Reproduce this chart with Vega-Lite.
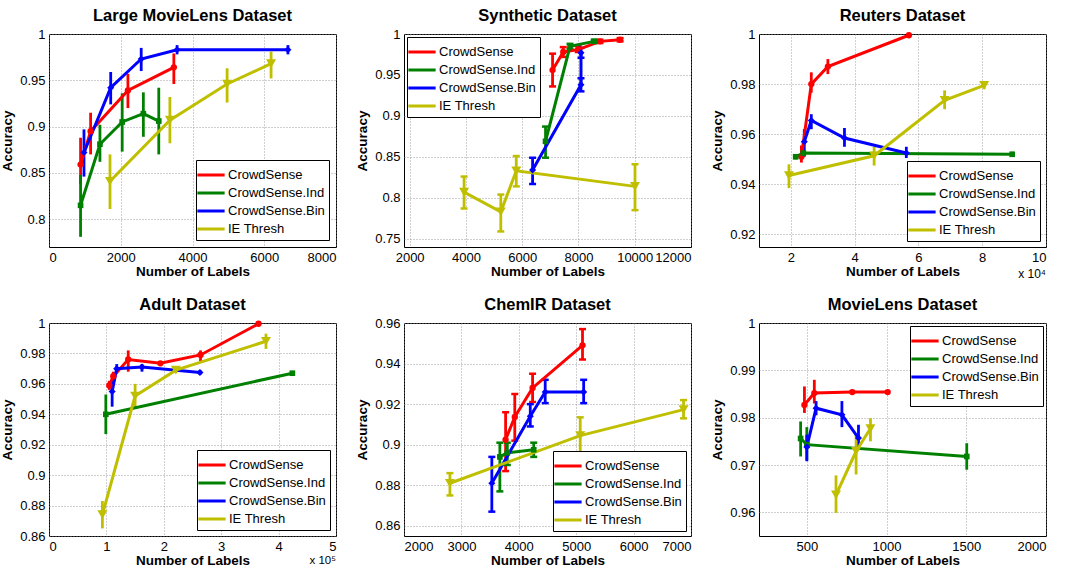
{
 "$schema": "https://vega.github.io/schema/vega-lite/v6.json",
 "background": "white",
 "padding": {"left": 0, "top": 7, "right": 5, "bottom": 2},
 "datasets": {"d": [
  {"p":"LML","s":"CrowdSense","o":1,"x":880,"y":0.859,"lo":0.838,"hi":0.888},
  {"p":"LML","s":"CrowdSense","o":2,"x":1160,"y":0.895,"lo":0.870,"hi":0.915},
  {"p":"LML","s":"CrowdSense","o":3,"x":2200,"y":0.939,"lo":0.920,"hi":0.957},
  {"p":"LML","s":"CrowdSense","o":4,"x":3480,"y":0.964,"lo":0.946,"hi":0.979},
  {"p":"LML","s":"CrowdSense.Ind","o":1,"x":880,"y":0.815,"lo":0.781,"hi":0.848},
  {"p":"LML","s":"CrowdSense.Ind","o":2,"x":1420,"y":0.881,"lo":0.862,"hi":0.902},
  {"p":"LML","s":"CrowdSense.Ind","o":3,"x":2040,"y":0.905,"lo":0.873,"hi":0.936},
  {"p":"LML","s":"CrowdSense.Ind","o":4,"x":2630,"y":0.914,"lo":0.889,"hi":0.937},
  {"p":"LML","s":"CrowdSense.Ind","o":5,"x":3060,"y":0.906,"lo":0.870,"hi":0.942},
  {"p":"LML","s":"CrowdSense.Bin","o":1,"x":975,"y":0.872,"lo":0.846,"hi":0.897},
  {"p":"LML","s":"CrowdSense.Bin","o":2,"x":1720,"y":0.942,"lo":0.924,"hi":0.959},
  {"p":"LML","s":"CrowdSense.Bin","o":3,"x":2570,"y":0.973,"lo":0.960,"hi":0.985},
  {"p":"LML","s":"CrowdSense.Bin","o":4,"x":3570,"y":0.983,"lo":0.978,"hi":0.988},
  {"p":"LML","s":"CrowdSense.Bin","o":5,"x":6660,"y":0.983,"lo":0.978,"hi":0.988},
  {"p":"LML","s":"IE Thresh","o":1,"x":1700,"y":0.841,"lo":0.811,"hi":0.870},
  {"p":"LML","s":"IE Thresh","o":2,"x":3370,"y":0.907,"lo":0.882,"hi":0.932},
  {"p":"LML","s":"IE Thresh","o":3,"x":4965,"y":0.946,"lo":0.926,"hi":0.963},
  {"p":"LML","s":"IE Thresh","o":4,"x":6190,"y":0.968,"lo":0.952,"hi":0.981},

  {"p":"SYN","s":"CrowdSense","o":1,"x":7080,"y":0.956,"lo":0.936,"hi":0.976},
  {"p":"SYN","s":"CrowdSense","o":2,"x":7460,"y":0.978,"lo":0.972,"hi":0.984},
  {"p":"SYN","s":"CrowdSense","o":3,"x":7990,"y":0.981,"lo":0.978,"hi":0.985},
  {"p":"SYN","s":"CrowdSense","o":4,"x":8765,"y":0.991,"lo":0.989,"hi":0.993},
  {"p":"SYN","s":"CrowdSense","o":5,"x":9480,"y":0.993,"lo":0.991,"hi":0.995},
  {"p":"SYN","s":"CrowdSense.Ind","o":1,"x":6830,"y":0.869,"lo":0.849,"hi":0.887},
  {"p":"SYN","s":"CrowdSense.Ind","o":2,"x":7700,"y":0.985,"lo":0.982,"hi":0.988},
  {"p":"SYN","s":"CrowdSense.Ind","o":3,"x":8560,"y":0.991,"lo":0.989,"hi":0.993},
  {"p":"SYN","s":"CrowdSense.Bin","o":1,"x":6370,"y":0.834,"lo":0.817,"hi":0.849},
  {"p":"SYN","s":"CrowdSense.Bin","o":2,"x":8090,"y":0.938,"lo":0.930,"hi":0.946},
  {"p":"SYN","s":"CrowdSense.Bin","o":3,"x":8090,"y":0.977,"lo":0.971,"hi":0.983},
  {"p":"SYN","s":"IE Thresh","o":1,"x":3935,"y":0.807,"lo":0.787,"hi":0.826},
  {"p":"SYN","s":"IE Thresh","o":2,"x":5240,"y":0.783,"lo":0.759,"hi":0.804},
  {"p":"SYN","s":"IE Thresh","o":3,"x":5790,"y":0.833,"lo":0.814,"hi":0.851},
  {"p":"SYN","s":"IE Thresh","o":4,"x":10010,"y":0.814,"lo":0.785,"hi":0.841},

  {"p":"REU","s":"CrowdSense","o":1,"x":2.33,"y":0.951,"lo":0.9487,"hi":0.9555},
  {"p":"REU","s":"CrowdSense","o":2,"x":2.64,"y":0.980,"lo":0.9766,"hi":0.9847},
  {"p":"REU","s":"CrowdSense","o":3,"x":3.16,"y":0.987,"lo":0.984,"hi":0.990},
  {"p":"REU","s":"CrowdSense","o":4,"x":5.70,"y":0.9995,"lo":0.999,"hi":1.0},
  {"p":"REU","s":"CrowdSense.Ind","o":1,"x":2.15,"y":0.951,"lo":0.950,"hi":0.952},
  {"p":"REU","s":"CrowdSense.Ind","o":2,"x":2.39,"y":0.9525,"lo":0.951,"hi":0.954},
  {"p":"REU","s":"CrowdSense.Ind","o":3,"x":8.94,"y":0.952,"lo":0.951,"hi":0.953},
  {"p":"REU","s":"CrowdSense.Bin","o":1,"x":2.42,"y":0.957,"lo":0.951,"hi":0.962},
  {"p":"REU","s":"CrowdSense.Bin","o":2,"x":2.64,"y":0.9655,"lo":0.962,"hi":0.968},
  {"p":"REU","s":"CrowdSense.Bin","o":3,"x":3.68,"y":0.9585,"lo":0.955,"hi":0.9625},
  {"p":"REU","s":"CrowdSense.Bin","o":4,"x":5.62,"y":0.9525,"lo":0.9505,"hi":0.955},
  {"p":"REU","s":"IE Thresh","o":1,"x":1.94,"y":0.9435,"lo":0.9385,"hi":0.948},
  {"p":"REU","s":"IE Thresh","o":2,"x":4.61,"y":0.9514,"lo":0.9475,"hi":0.955},
  {"p":"REU","s":"IE Thresh","o":3,"x":6.82,"y":0.9735,"lo":0.970,"hi":0.9775},
  {"p":"REU","s":"IE Thresh","o":4,"x":8.06,"y":0.9795,"lo":0.978,"hi":0.9805},

  {"p":"ADU","s":"CrowdSense","o":1,"x":1.05,"y":0.959,"lo":0.956,"hi":0.962},
  {"p":"ADU","s":"CrowdSense","o":2,"x":1.12,"y":0.965,"lo":0.962,"hi":0.968},
  {"p":"ADU","s":"CrowdSense","o":3,"x":1.38,"y":0.976,"lo":0.968,"hi":0.982},
  {"p":"ADU","s":"CrowdSense","o":4,"x":1.94,"y":0.9735,"lo":0.972,"hi":0.975},
  {"p":"ADU","s":"CrowdSense","o":5,"x":2.64,"y":0.979,"lo":0.975,"hi":0.982},
  {"p":"ADU","s":"CrowdSense","o":6,"x":3.65,"y":0.9995,"lo":0.999,"hi":1.0},
  {"p":"ADU","s":"CrowdSense.Ind","o":1,"x":0.99,"y":0.940,"lo":0.927,"hi":0.953},
  {"p":"ADU","s":"CrowdSense.Ind","o":2,"x":4.24,"y":0.967,"lo":0.966,"hi":0.968},
  {"p":"ADU","s":"CrowdSense.Bin","o":1,"x":1.10,"y":0.955,"lo":0.945,"hi":0.963},
  {"p":"ADU","s":"CrowdSense.Bin","o":2,"x":1.18,"y":0.970,"lo":0.967,"hi":0.973},
  {"p":"ADU","s":"CrowdSense.Bin","o":3,"x":1.62,"y":0.971,"lo":0.968,"hi":0.973},
  {"p":"ADU","s":"CrowdSense.Bin","o":4,"x":2.63,"y":0.9675,"lo":0.966,"hi":0.969},
  {"p":"ADU","s":"IE Thresh","o":1,"x":0.93,"y":0.874,"lo":0.865,"hi":0.883},
  {"p":"ADU","s":"IE Thresh","o":2,"x":1.50,"y":0.952,"lo":0.944,"hi":0.960},
  {"p":"ADU","s":"IE Thresh","o":3,"x":2.21,"y":0.969,"lo":0.967,"hi":0.971},
  {"p":"ADU","s":"IE Thresh","o":4,"x":3.78,"y":0.988,"lo":0.983,"hi":0.993},

  {"p":"CHE","s":"CrowdSense","o":1,"x":3770,"y":0.9025,"lo":0.887,"hi":0.916},
  {"p":"CHE","s":"CrowdSense","o":2,"x":3930,"y":0.9137,"lo":0.902,"hi":0.925},
  {"p":"CHE","s":"CrowdSense","o":3,"x":4240,"y":0.928,"lo":0.921,"hi":0.935},
  {"p":"CHE","s":"CrowdSense","o":4,"x":5110,"y":0.949,"lo":0.942,"hi":0.957},
  {"p":"CHE","s":"CrowdSense.Ind","o":1,"x":3670,"y":0.894,"lo":0.877,"hi":0.901},
  {"p":"CHE","s":"CrowdSense.Ind","o":2,"x":3800,"y":0.896,"lo":0.890,"hi":0.901},
  {"p":"CHE","s":"CrowdSense.Ind","o":3,"x":4260,"y":0.8975,"lo":0.894,"hi":0.901},
  {"p":"CHE","s":"CrowdSense.Bin","o":1,"x":3530,"y":0.881,"lo":0.867,"hi":0.894},
  {"p":"CHE","s":"CrowdSense.Bin","o":2,"x":4200,"y":0.914,"lo":0.909,"hi":0.920},
  {"p":"CHE","s":"CrowdSense.Bin","o":3,"x":4460,"y":0.926,"lo":0.9205,"hi":0.932},
  {"p":"CHE","s":"CrowdSense.Bin","o":4,"x":5130,"y":0.926,"lo":0.9205,"hi":0.932},
  {"p":"CHE","s":"IE Thresh","o":1,"x":2800,"y":0.881,"lo":0.875,"hi":0.886},
  {"p":"CHE","s":"IE Thresh","o":2,"x":5070,"y":0.9045,"lo":0.892,"hi":0.9135},
  {"p":"CHE","s":"IE Thresh","o":3,"x":6870,"y":0.9173,"lo":0.913,"hi":0.922},

  {"p":"ML","s":"CrowdSense","o":1,"x":485,"y":0.9827,"lo":0.981,"hi":0.9866},
  {"p":"ML","s":"CrowdSense","o":2,"x":547,"y":0.9852,"lo":0.983,"hi":0.988},
  {"p":"ML","s":"CrowdSense","o":3,"x":785,"y":0.9854,"lo":0.9852,"hi":0.9856},
  {"p":"ML","s":"CrowdSense","o":4,"x":1007,"y":0.9854,"lo":0.9852,"hi":0.9856},
  {"p":"ML","s":"CrowdSense.Ind","o":1,"x":461,"y":0.9756,"lo":0.9718,"hi":0.9792},
  {"p":"ML","s":"CrowdSense.Ind","o":2,"x":500,"y":0.9743,"lo":0.971,"hi":0.978},
  {"p":"ML","s":"CrowdSense.Ind","o":3,"x":1503,"y":0.9718,"lo":0.969,"hi":0.9746},
  {"p":"ML","s":"CrowdSense.Bin","o":1,"x":500,"y":0.9738,"lo":0.9708,"hi":0.9764},
  {"p":"ML","s":"CrowdSense.Bin","o":2,"x":558,"y":0.982,"lo":0.9805,"hi":0.9835},
  {"p":"ML","s":"CrowdSense.Bin","o":3,"x":720,"y":0.9806,"lo":0.978,"hi":0.9835},
  {"p":"ML","s":"CrowdSense.Bin","o":4,"x":824,"y":0.9757,"lo":0.9735,"hi":0.9785},
  {"p":"ML","s":"IE Thresh","o":1,"x":683,"y":0.9637,"lo":0.9599,"hi":0.9678},
  {"p":"ML","s":"IE Thresh","o":2,"x":809,"y":0.9729,"lo":0.968,"hi":0.9764},
  {"p":"ML","s":"IE Thresh","o":3,"x":899,"y":0.9777,"lo":0.975,"hi":0.9799}
 ]},
 "columns": 3,
 "bounds": "flush",
 "spacing": {"row": 76, "column": 68},
 "resolve": {"scale": {"color": "independent"}, "legend": {"color": "independent"}},
 "config": {
  "font": "Liberation Sans",
  "view": {"stroke": "black", "strokeWidth": 1},
  "title": {"fontSize": 16.5, "fontWeight": "bold", "color": "black", "offset": 4},
  "axis": {"domain": false, "ticks": false, "labelFontSize": 13, "labelColor": "black", "titleFontSize": 13.5, "titleFontWeight": "bold", "titleColor": "black", "gridColor": "#888888", "gridDash": [1, 2], "gridWidth": 0.8, "labelPadding": 4, "labelExpr": "'' + datum.value"},
  "axisX": {"titlePadding": 0},
  "axisY": {"titlePadding": 5},
  "legend": {"strokeColor": "black", "fillColor": "white", "padding": 4, "labelFontSize": 13, "labelColor": "black", "symbolType": "M-1.5,0H1.5", "symbolSize": 330, "symbolStrokeWidth": 3, "symbolOpacity": 1, "rowPadding": 0, "labelOffset": 6, "offset": 6, "titleFontSize": 0}
 },
 "concat": [
  {
   "title": "Large MovieLens Dataset", "width": 287, "height": 213,
   "data": {"name": "d"},
   "transform": [{"filter": "datum.p === 'LML'"}],
   "encoding": {
    "x": {"field": "x", "type": "quantitative", "title": "Number of Labels", "scale": {"domain": [0, 8000], "nice": false, "zero": false}, "axis": {"values": [0, 2000, 4000, 6000, 8000]}},
    "y": {"field": "y", "type": "quantitative", "title": "Accuracy", "scale": {"domain": [0.77, 1], "nice": false, "zero": false}, "axis": {"values": [0.8, 0.85, 0.9, 0.95, 1]}},
    "color": {"field": "s", "type": "nominal", "scale": {"domain": ["CrowdSense", "CrowdSense.Ind", "CrowdSense.Bin", "IE Thresh"], "range": ["#ff0000", "#008000", "#0000ff", "#bfbf00"]}, "legend": {"title": null, "orient": "bottom-right", "offset": 7, "symbolType": "M-1.5,0H1.5"}}
   },
   "layer": [
    {"mark": {"type": "rule", "strokeWidth": 2.8}, "encoding": {"y": {"field": "lo", "type": "quantitative", "title": "Accuracy"}, "y2": {"field": "hi"}}},
    {"mark": {"type": "line", "strokeWidth": 3}, "encoding": {"order": {"field": "o", "type": "quantitative"}}},
    {"transform": [{"filter": "datum.s === 'CrowdSense'"}], "mark": {"type": "point", "filled": true, "opacity": 1, "shape": "circle", "size": 40}, "encoding": {"color": {"value": "#ff0000"}}},
    {"transform": [{"filter": "datum.s === 'CrowdSense.Ind'"}], "mark": {"type": "point", "filled": true, "opacity": 1, "shape": "square", "size": 32}, "encoding": {"color": {"value": "#008000"}}},
    {"transform": [{"filter": "datum.s === 'CrowdSense.Bin'"}], "mark": {"type": "point", "filled": true, "opacity": 1, "shape": "diamond", "size": 50}, "encoding": {"color": {"value": "#0000ff"}}},
    {"transform": [{"filter": "datum.s === 'IE Thresh'"}], "mark": {"type": "point", "filled": true, "opacity": 1, "shape": "triangle-down", "size": 100}, "encoding": {"color": {"value": "#bfbf00"}}}
   ]
  },
  {
   "title": "Synthetic Dataset", "width": 287, "height": 213,
   "data": {"name": "d"},
   "transform": [{"filter": "datum.p === 'SYN'"}],
   "encoding": {
    "x": {"field": "x", "type": "quantitative", "title": "Number of Labels", "scale": {"domain": [1800, 12000], "nice": false, "zero": false}, "axis": {"values": [2000, 4000, 6000, 8000, 10000, 12000]}},
    "y": {"field": "y", "type": "quantitative", "title": "Accuracy", "scale": {"domain": [0.74, 1], "nice": false, "zero": false}, "axis": {"values": [0.75, 0.8, 0.85, 0.9, 0.95, 1]}},
    "color": {"field": "s", "type": "nominal", "scale": {"domain": ["CrowdSense", "CrowdSense.Ind", "CrowdSense.Bin", "IE Thresh"], "range": ["#ff0000", "#008000", "#0000ff", "#bfbf00"]}, "legend": {"title": null, "orient": "top-left", "offset": 3, "symbolType": "M-1.5,0H1.5"}}
   },
   "layer": [
    {"mark": {"type": "rule", "strokeWidth": 2.8}, "encoding": {"y": {"field": "lo", "type": "quantitative", "title": "Accuracy"}, "y2": {"field": "hi"}}},
    {"mark": {"type": "tick", "orient": "horizontal", "size": 7, "thickness": 2.5, "opacity": 1}, "encoding": {"y": {"field": "lo", "type": "quantitative", "title": "Accuracy"}}},
    {"mark": {"type": "tick", "orient": "horizontal", "size": 7, "thickness": 2.5, "opacity": 1}, "encoding": {"y": {"field": "hi", "type": "quantitative", "title": "Accuracy"}}},
    {"mark": {"type": "line", "strokeWidth": 3}, "encoding": {"order": {"field": "o", "type": "quantitative"}}},
    {"transform": [{"filter": "datum.s === 'CrowdSense'"}], "mark": {"type": "point", "filled": true, "opacity": 1, "shape": "circle", "size": 40}, "encoding": {"color": {"value": "#ff0000"}}},
    {"transform": [{"filter": "datum.s === 'CrowdSense.Ind'"}], "mark": {"type": "point", "filled": true, "opacity": 1, "shape": "square", "size": 32}, "encoding": {"color": {"value": "#008000"}}},
    {"transform": [{"filter": "datum.s === 'CrowdSense.Bin'"}], "mark": {"type": "point", "filled": true, "opacity": 1, "shape": "diamond", "size": 50}, "encoding": {"color": {"value": "#0000ff"}}},
    {"transform": [{"filter": "datum.s === 'IE Thresh'"}], "mark": {"type": "point", "filled": true, "opacity": 1, "shape": "triangle-down", "size": 100}, "encoding": {"color": {"value": "#bfbf00"}}}
   ]
  },
  {
   "title": "Reuters Dataset", "width": 287, "height": 213,
   "data": {"name": "d"},
   "transform": [{"filter": "datum.p === 'REU'"}],
   "encoding": {
    "x": {"field": "x", "type": "quantitative", "title": "Number of Labels", "scale": {"domain": [1, 10], "nice": false, "zero": false}, "axis": {"values": [2, 4, 6, 8, 10]}},
    "y": {"field": "y", "type": "quantitative", "title": "Accuracy", "scale": {"domain": [0.915, 1], "nice": false, "zero": false}, "axis": {"values": [0.92, 0.94, 0.96, 0.98, 1]}},
    "color": {"field": "s", "type": "nominal", "scale": {"domain": ["CrowdSense", "CrowdSense.Ind", "CrowdSense.Bin", "IE Thresh"], "range": ["#ff0000", "#008000", "#0000ff", "#bfbf00"]}, "legend": {"title": null, "orient": "bottom-right", "offset": 6, "symbolType": "M-1.5,0H1.5"}}
   },
   "layer": [
    {"mark": {"type": "rule", "strokeWidth": 2.8}, "encoding": {"y": {"field": "lo", "type": "quantitative", "title": "Accuracy"}, "y2": {"field": "hi"}}},
    {"mark": {"type": "line", "strokeWidth": 3}, "encoding": {"order": {"field": "o", "type": "quantitative"}}},
    {"transform": [{"filter": "datum.s === 'CrowdSense'"}], "mark": {"type": "point", "filled": true, "opacity": 1, "shape": "circle", "size": 40}, "encoding": {"color": {"value": "#ff0000"}}},
    {"transform": [{"filter": "datum.s === 'CrowdSense.Ind'"}], "mark": {"type": "point", "filled": true, "opacity": 1, "shape": "square", "size": 32}, "encoding": {"color": {"value": "#008000"}}},
    {"transform": [{"filter": "datum.s === 'CrowdSense.Bin'"}], "mark": {"type": "point", "filled": true, "opacity": 1, "shape": "diamond", "size": 50}, "encoding": {"color": {"value": "#0000ff"}}},
    {"transform": [{"filter": "datum.s === 'IE Thresh'"}], "mark": {"type": "point", "filled": true, "opacity": 1, "shape": "triangle-down", "size": 100}, "encoding": {"color": {"value": "#bfbf00"}}},
    {"transform": [{"filter": "datum.s === 'CrowdSense' && datum.o === 1"}], "mark": {"type": "text", "align": "right", "baseline": "top", "dy": 22, "fontSize": 12}, "encoding": {"x": {"datum": 10}, "y": {"datum": 0.915}, "text": {"value": "x 10⁴"}, "color": {"value": "black"}}}
   ]
  },
  {
   "title": "Adult Dataset", "width": 287, "height": 213,
   "data": {"name": "d"},
   "transform": [{"filter": "datum.p === 'ADU'"}],
   "encoding": {
    "x": {"field": "x", "type": "quantitative", "title": "Number of Labels", "scale": {"domain": [0, 5], "nice": false, "zero": false}, "axis": {"values": [0, 1, 2, 3, 4, 5]}},
    "y": {"field": "y", "type": "quantitative", "title": "Accuracy", "scale": {"domain": [0.86, 1], "nice": false, "zero": false}, "axis": {"values": [0.86, 0.88, 0.9, 0.92, 0.94, 0.96, 0.98, 1]}},
    "color": {"field": "s", "type": "nominal", "scale": {"domain": ["CrowdSense", "CrowdSense.Ind", "CrowdSense.Bin", "IE Thresh"], "range": ["#ff0000", "#008000", "#0000ff", "#bfbf00"]}, "legend": {"title": null, "orient": "bottom-right", "offset": 6, "symbolType": "M-1.5,0H1.5"}}
   },
   "layer": [
    {"mark": {"type": "rule", "strokeWidth": 2.8}, "encoding": {"y": {"field": "lo", "type": "quantitative", "title": "Accuracy"}, "y2": {"field": "hi"}}},
    {"mark": {"type": "line", "strokeWidth": 3}, "encoding": {"order": {"field": "o", "type": "quantitative"}}},
    {"transform": [{"filter": "datum.s === 'CrowdSense'"}], "mark": {"type": "point", "filled": true, "opacity": 1, "shape": "circle", "size": 40}, "encoding": {"color": {"value": "#ff0000"}}},
    {"transform": [{"filter": "datum.s === 'CrowdSense.Ind'"}], "mark": {"type": "point", "filled": true, "opacity": 1, "shape": "square", "size": 32}, "encoding": {"color": {"value": "#008000"}}},
    {"transform": [{"filter": "datum.s === 'CrowdSense.Bin'"}], "mark": {"type": "point", "filled": true, "opacity": 1, "shape": "diamond", "size": 50}, "encoding": {"color": {"value": "#0000ff"}}},
    {"transform": [{"filter": "datum.s === 'IE Thresh'"}], "mark": {"type": "point", "filled": true, "opacity": 1, "shape": "triangle-down", "size": 100}, "encoding": {"color": {"value": "#bfbf00"}}},
    {"transform": [{"filter": "datum.s === 'CrowdSense' && datum.o === 1"}], "mark": {"type": "text", "align": "right", "baseline": "top", "dy": 19, "fontSize": 11.5}, "encoding": {"x": {"datum": 5}, "y": {"datum": 0.86}, "text": {"value": "x 10⁵"}, "color": {"value": "black"}}}
   ]
  },
  {
   "title": "ChemIR Dataset", "width": 287, "height": 213,
   "data": {"name": "d"},
   "transform": [{"filter": "datum.p === 'CHE'"}],
   "encoding": {
    "x": {"field": "x", "type": "quantitative", "title": "Number of Labels", "scale": {"domain": [2000, 7000], "nice": false, "zero": false}, "axis": {"values": [2000, 3000, 4000, 5000, 6000, 7000]}},
    "y": {"field": "y", "type": "quantitative", "title": "Accuracy", "scale": {"domain": [0.855, 0.96], "nice": false, "zero": false}, "axis": {"values": [0.86, 0.88, 0.9, 0.92, 0.94, 0.96]}},
    "color": {"field": "s", "type": "nominal", "scale": {"domain": ["CrowdSense", "CrowdSense.Ind", "CrowdSense.Bin", "IE Thresh"], "range": ["#ff0000", "#008000", "#0000ff", "#bfbf00"]}, "legend": {"title": null, "orient": "bottom-right", "offset": 5, "symbolType": "M-1.5,0H1.5"}}
   },
   "layer": [
    {"mark": {"type": "rule", "strokeWidth": 2.8}, "encoding": {"y": {"field": "lo", "type": "quantitative", "title": "Accuracy"}, "y2": {"field": "hi"}}},
    {"mark": {"type": "tick", "orient": "horizontal", "size": 7, "thickness": 2.5, "opacity": 1}, "encoding": {"y": {"field": "lo", "type": "quantitative", "title": "Accuracy"}}},
    {"mark": {"type": "tick", "orient": "horizontal", "size": 7, "thickness": 2.5, "opacity": 1}, "encoding": {"y": {"field": "hi", "type": "quantitative", "title": "Accuracy"}}},
    {"mark": {"type": "line", "strokeWidth": 3}, "encoding": {"order": {"field": "o", "type": "quantitative"}}},
    {"transform": [{"filter": "datum.s === 'CrowdSense'"}], "mark": {"type": "point", "filled": true, "opacity": 1, "shape": "circle", "size": 40}, "encoding": {"color": {"value": "#ff0000"}}},
    {"transform": [{"filter": "datum.s === 'CrowdSense.Ind'"}], "mark": {"type": "point", "filled": true, "opacity": 1, "shape": "square", "size": 32}, "encoding": {"color": {"value": "#008000"}}},
    {"transform": [{"filter": "datum.s === 'CrowdSense.Bin'"}], "mark": {"type": "point", "filled": true, "opacity": 1, "shape": "diamond", "size": 50}, "encoding": {"color": {"value": "#0000ff"}}},
    {"transform": [{"filter": "datum.s === 'IE Thresh'"}], "mark": {"type": "point", "filled": true, "opacity": 1, "shape": "triangle-down", "size": 100}, "encoding": {"color": {"value": "#bfbf00"}}}
   ]
  },
  {
   "title": "MovieLens Dataset", "width": 287, "height": 213,
   "data": {"name": "d"},
   "transform": [{"filter": "datum.p === 'ML'"}],
   "encoding": {
    "x": {"field": "x", "type": "quantitative", "title": "Number of Labels", "scale": {"domain": [200, 2000], "nice": false, "zero": false}, "axis": {"values": [500, 1000, 1500, 2000]}},
    "y": {"field": "y", "type": "quantitative", "title": "Accuracy", "scale": {"domain": [0.955, 1], "nice": false, "zero": false}, "axis": {"values": [0.96, 0.97, 0.98, 0.99, 1]}},
    "color": {"field": "s", "type": "nominal", "scale": {"domain": ["CrowdSense", "CrowdSense.Ind", "CrowdSense.Bin", "IE Thresh"], "range": ["#ff0000", "#008000", "#0000ff", "#bfbf00"]}, "legend": {"title": null, "orient": "top-right", "offset": 3, "symbolType": "M-1.5,0H1.5"}}
   },
   "layer": [
    {"mark": {"type": "rule", "strokeWidth": 2.8}, "encoding": {"y": {"field": "lo", "type": "quantitative", "title": "Accuracy"}, "y2": {"field": "hi"}}},
    {"mark": {"type": "line", "strokeWidth": 3}, "encoding": {"order": {"field": "o", "type": "quantitative"}}},
    {"transform": [{"filter": "datum.s === 'CrowdSense'"}], "mark": {"type": "point", "filled": true, "opacity": 1, "shape": "circle", "size": 40}, "encoding": {"color": {"value": "#ff0000"}}},
    {"transform": [{"filter": "datum.s === 'CrowdSense.Ind'"}], "mark": {"type": "point", "filled": true, "opacity": 1, "shape": "square", "size": 32}, "encoding": {"color": {"value": "#008000"}}},
    {"transform": [{"filter": "datum.s === 'CrowdSense.Bin'"}], "mark": {"type": "point", "filled": true, "opacity": 1, "shape": "diamond", "size": 50}, "encoding": {"color": {"value": "#0000ff"}}},
    {"transform": [{"filter": "datum.s === 'IE Thresh'"}], "mark": {"type": "point", "filled": true, "opacity": 1, "shape": "triangle-down", "size": 100}, "encoding": {"color": {"value": "#bfbf00"}}}
   ]
  }
 ]
}
